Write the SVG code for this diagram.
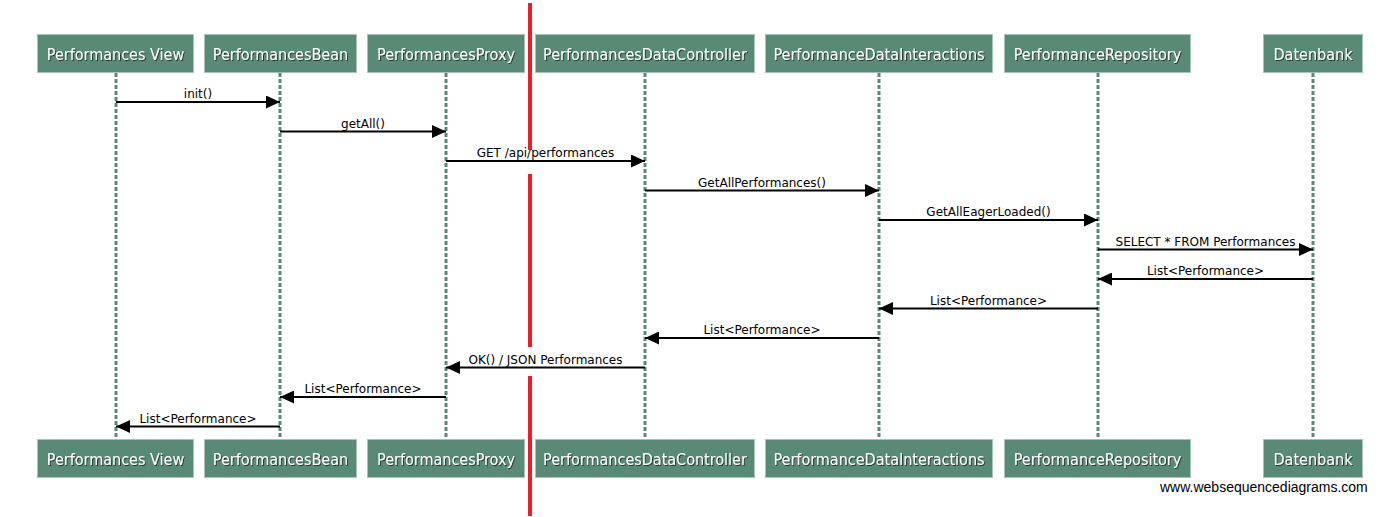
<svg xmlns="http://www.w3.org/2000/svg" width="1390" height="517" viewBox="0 0 1390 517">
<style>
.box{fill:#598a76;stroke:#a6c4b8;stroke-width:1}
.hd{font-family:"DejaVu Sans Condensed","DejaVu Sans",sans-serif;font-stretch:condensed;font-size:16px;fill:#fff;text-anchor:middle;filter:url(#sh)}
.life{stroke:#598a76;stroke-width:3;stroke-dasharray:4 2;fill:none}
.msg{stroke:#000;stroke-width:2;fill:none}
.lbl{font-family:"DejaVu Sans",sans-serif;font-size:12px;fill:#000;text-anchor:middle}
.red{stroke:#ee1c25;stroke-width:4}
</style>
<defs>
<filter id="sh" x="-10%" y="-30%" width="120%" height="160%">
<feDropShadow dx="1" dy="1" stdDeviation="0.7" flood-color="#000" flood-opacity="0.6"/>
</filter>
<marker id="ah" markerWidth="14" markerHeight="13" refX="14" refY="6.5" orient="auto" markerUnits="userSpaceOnUse">
<path d="M0,0 L14,6.5 L0,13 Z" fill="#000"/>
</marker>
</defs>
<rect width="1390" height="517" fill="#fff"/>
<g id="lifelines">
<line class="life" x1="116" y1="73" x2="116" y2="439"/>
<line class="life" x1="280" y1="73" x2="280" y2="439"/>
<line class="life" x1="446" y1="73" x2="446" y2="439"/>
<line class="life" x1="645" y1="73" x2="645" y2="439"/>
<line class="life" x1="879" y1="73" x2="879" y2="439"/>
<line class="life" x1="1098" y1="73" x2="1098" y2="439"/>
<line class="life" x1="1313" y1="73" x2="1313" y2="439"/>
</g>
<g id="n-view">
<rect class="box" x="37.5" y="34.5" width="156" height="38"/>
<text class="hd" x="115.5" y="60">Performances View</text>
<rect class="box" x="37.5" y="439.5" width="156" height="38"/>
<text class="hd" x="115.5" y="465">Performances View</text>
</g>
<g id="n-bean">
<rect class="box" x="204.5" y="34.5" width="152" height="38"/>
<text class="hd" x="280.5" y="60">PerformancesBean</text>
<rect class="box" x="204.5" y="439.5" width="152" height="38"/>
<text class="hd" x="280.5" y="465">PerformancesBean</text>
</g>
<g id="n-proxy">
<rect class="box" x="367.5" y="34.5" width="157" height="38"/>
<text class="hd" x="446" y="60">PerformancesProxy</text>
<rect class="box" x="367.5" y="439.5" width="157" height="38"/>
<text class="hd" x="446" y="465">PerformancesProxy</text>
</g>
<g id="n-controller">
<rect class="box" x="535.5" y="34.5" width="219" height="38"/>
<text class="hd" x="645" y="60">PerformancesDataController</text>
<rect class="box" x="535.5" y="439.5" width="219" height="38"/>
<text class="hd" x="645" y="465">PerformancesDataController</text>
</g>
<g id="n-interactions">
<rect class="box" x="765.5" y="34.5" width="227" height="38"/>
<text class="hd" x="879" y="60">PerformanceDataInteractions</text>
<rect class="box" x="765.5" y="439.5" width="227" height="38"/>
<text class="hd" x="879" y="465">PerformanceDataInteractions</text>
</g>
<g id="n-repository">
<rect class="box" x="1004.5" y="34.5" width="186" height="38"/>
<text class="hd" x="1097.5" y="60">PerformanceRepository</text>
<rect class="box" x="1004.5" y="439.5" width="186" height="38"/>
<text class="hd" x="1097.5" y="465">PerformanceRepository</text>
</g>
<g id="n-datenbank">
<rect class="box" x="1263.5" y="34.5" width="99" height="38"/>
<text class="hd" x="1313" y="60">Datenbank</text>
<rect class="box" x="1263.5" y="439.5" width="99" height="38"/>
<text class="hd" x="1313" y="465">Datenbank</text>
</g>
<g id="connectors">
<line class="msg" x1="116" y1="102" x2="280" y2="102" marker-end="url(#ah)"/>
<text class="lbl" x="198" y="98">init()</text>
<line class="msg" x1="280" y1="131.5" x2="446" y2="131.5" marker-end="url(#ah)"/>
<text class="lbl" x="363" y="127.5">getAll()</text>
<line class="msg" x1="446" y1="161" x2="645" y2="161" marker-end="url(#ah)"/>
<text class="lbl" x="545.5" y="157">GET /api/performances</text>
<line class="msg" x1="645" y1="190.5" x2="879" y2="190.5" marker-end="url(#ah)"/>
<text class="lbl" x="762" y="186.5">GetAllPerformances()</text>
<line class="msg" x1="879" y1="220" x2="1098" y2="220" marker-end="url(#ah)"/>
<text class="lbl" x="988.5" y="216">GetAllEagerLoaded()</text>
<line class="msg" x1="1098" y1="249.5" x2="1313" y2="249.5" marker-end="url(#ah)"/>
<text class="lbl" x="1205.5" y="245.5">SELECT * FROM Performances</text>
<line class="msg" x1="1313" y1="279" x2="1098" y2="279" marker-end="url(#ah)"/>
<text class="lbl" x="1205.5" y="275">List&lt;Performance&gt;</text>
<line class="msg" x1="1098" y1="308.5" x2="879" y2="308.5" marker-end="url(#ah)"/>
<text class="lbl" x="988.5" y="304.5">List&lt;Performance&gt;</text>
<line class="msg" x1="879" y1="338" x2="645" y2="338" marker-end="url(#ah)"/>
<text class="lbl" x="762" y="334">List&lt;Performance&gt;</text>
<line class="msg" x1="645" y1="367.5" x2="446" y2="367.5" marker-end="url(#ah)"/>
<text class="lbl" x="545.5" y="363.5">OK() / JSON Performances</text>
<line class="msg" x1="446" y1="397" x2="280" y2="397" marker-end="url(#ah)"/>
<text class="lbl" x="363" y="393">List&lt;Performance&gt;</text>
<line class="msg" x1="280" y1="426.5" x2="116" y2="426.5" marker-end="url(#ah)"/>
<text class="lbl" x="198" y="422.5">List&lt;Performance&gt;</text>
</g>
<g id="red-line">
<line class="red" x1="530" y1="3" x2="530" y2="150"/>
<line class="red" x1="530" y1="174" x2="530" y2="347"/>
<line class="red" x1="530" y1="376" x2="530" y2="516"/>
</g>
<text x="1160" y="492" font-family="Liberation Sans, Arial, sans-serif" font-size="14" fill="#000">www.websequencediagrams.com</text>
</svg>
